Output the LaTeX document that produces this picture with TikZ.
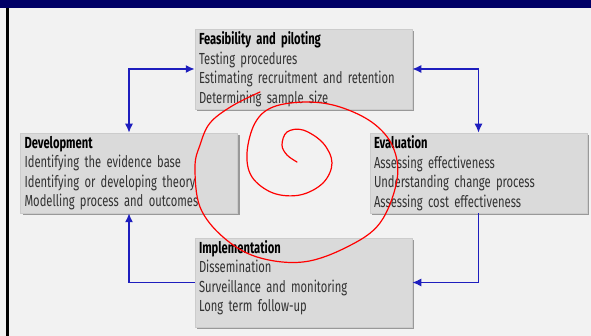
\documentclass[tikz,border=0pt]{standalone}
\usepackage{fontspec}
\setmainfont[FakeStretch=0.7]{Fira Sans}
\usepackage{xcolor}
\usetikzlibrary{arrows.meta,shadows}
\definecolor{barnavy}{RGB}{0,0,102}
\definecolor{pagegray}{RGB}{242,242,242}
\definecolor{boxgray}{RGB}{218,218,218}
\definecolor{flowblue}{RGB}{30,30,190}
\definecolor{bodytext}{RGB}{50,50,50}
\newcommand{\stagetitle}[1]{\textcolor{black}{\textbf{#1}}}

\begin{document}
\begin{tikzpicture}[x=1pt, y=-1pt,
  stage/.style={fill=boxgray, draw=gray!40, line width=0.5pt,
    drop shadow={shadow xshift=2pt, shadow yshift=-2pt, fill=gray!80, opacity=1},
    minimum width=217pt, minimum height=80pt, text width=209pt,
    inner xsep=4pt, inner ysep=0pt, align=left, text=bodytext,
    font=\fontsize{16}{19.5}\selectfont},
  cyclearrow/.style={flowblue, line width=1.5pt, >={Latex[length=9pt,width=8pt]}}]
\useasboundingbox (0,0) rectangle (591,336);
\fill[pagegray] (0,0) rectangle (591,336);
\fill[barnavy] (0,0) rectangle (591,8);
\fill[black] (5.5,8) rectangle (8.5,336);
\node[stage] (feas) at (303.5,69) {\stagetitle{Feasibility and piloting}\\Testing procedures\\Estimating recruitment and retention\\Determining sample size};
\node[stage] (dev) at (129,173) {\stagetitle{Development}\\Identifying the evidence base\\Identifying or developing theory\\Modelling process and outcomes};
\node[stage] (eval) at (478.5,173) {\stagetitle{Evaluation}\\Assessing effectiveness\\Understanding change process\\Assessing cost effectiveness};
\node[stage, minimum height=89pt] (imp) at (303.5,282.5) {\stagetitle{Implementation}\\Dissemination\\Surveillance and monitoring\\Long term follow-up\rule[-13pt]{0pt}{0pt}};
\draw[cyclearrow, <->] (dev.north) |- (feas.west);
\draw[cyclearrow, <->] (feas.east) -| (eval.north);
\draw[cyclearrow, ->] (imp.west) -| (dev.south);
\draw[cyclearrow, ->] (eval.south) |- (imp.east);
\draw[red, line width=1.2pt, line cap=round] plot[smooth, tension=0.6] coordinates {
  (260,92) (232,106) (210,123) (200,145) (195,167) (200,207) (223,237) (257,257)
  (303,262) (347,247) (380,223) (397,180) (393,147) (373,123) (340,107) (307,102)
  (273,107) (255,123) (247,153) (252,177) (273,193) (300,195) (323,183) (332,163)
  (323,143) (303,130) (287,132) (282,145) (287,155) (297,162)};
\end{tikzpicture}
\end{document}
